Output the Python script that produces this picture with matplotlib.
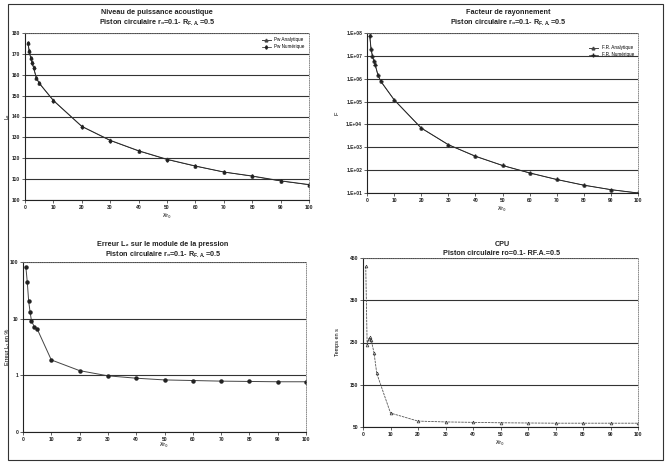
import numpy as np
import matplotlib
matplotlib.use("Agg")
import matplotlib.pyplot as plt
from matplotlib.patches import Rectangle

plt.rcParams['font.family'] = ['Liberation Sans', 'DejaVu Sans']

# ---- donnees ----
lam = [1, 1.5, 2, 2.5, 3, 4, 5, 10, 20, 30, 40, 50, 60, 70, 80, 90, 100]

pw_ana = [175.4, 171.5, 168.1, 165.9, 163.5, 158.5, 156.0, 147.7, 135.3,
          128.6, 123.6, 119.5, 116.3, 113.4, 111.5, 109.2, 107.4]
pw_num = [175.0, 171.2, 168.0, 165.7, 163.4, 158.4, 155.9, 147.6, 135.2,
          128.5, 123.5, 119.4, 116.2, 113.4, 111.4, 109.1, 107.3]

fr_ana = [7.9e7, 2.0e7, 1.0e7, 6.0e6, 4.2e6, 1.5e6, 8.0e5, 1.2e5, 7.0e3,
          1.3e3, 4.1e2, 1.6e2, 76, 39, 22, 14, 10]
fr_num = [7.5e7, 1.9e7, 1.0e7, 5.8e6, 4.1e6, 1.5e6, 7.9e5, 1.2e5, 6.9e3,
          1.3e3, 4.0e2, 1.6e2, 75, 39, 22, 14, 10]

err_l2 = [83, 45, 20.4, 13.2, 9.1, 7.2, 6.6, 1.87, 1.21, 0.98, 0.89, 0.83,
          0.81, 0.79, 0.78, 0.77, 0.77]

cpu = [430, 245, 258, 262, 255, 226, 177, 83, 64, 62, 61, 60, 59.5, 59,
       59, 59, 59]

W, H = 669, 463
fig = plt.figure(figsize=(W / 100, H / 100), dpi=100)


def box(x0, y0, x1, y1):
    # pixels (origine en haut a gauche) -> fractions de figure
    return [x0 / W, 1 - y1 / H, (x1 - x0) / W, (y1 - y0) / H]


def style(ax):
    ax.set_facecolor('white')
    for s in ('top', 'right'):
        ax.spines[s].set_color('#777777')
        ax.spines[s].set_linestyle(':')
        ax.spines[s].set_linewidth(0.6)
    for s in ('left', 'bottom'):
        ax.spines[s].set_color('#222222')
        ax.spines[s].set_linewidth(0.8)
    ax.yaxis.grid(True, color='#333333', lw=0.8)
    ax.set_axisbelow(True)
    ax.tick_params(labelsize=3.6, length=2, width=0.5, pad=1.5, colors='#222222')
    ax.set_xlim(0, 100)
    ax.set_xticks(range(0, 101, 10))


def gras(ax):
    for lab in ax.get_xticklabels() + ax.get_yticklabels():
        lab.set_fontweight('bold')


def titre(x, y, l1, l2):
    fig.text(x / W, 1 - y / H, l1, ha='center', va='center', fontsize=5.2,
             fontweight='bold', color='#222222')
    fig.text(x / W, 1 - (y + 9.5) / H, l2, ha='center', va='center',
             fontsize=5.2, fontweight='bold', color='#222222')


sub = r'Piston circulaire r₀=0.1- R$_{\mathregular{F.A.}}$=0.5'
xlab = 'λ/r₀'

# ---- Niveau de puissance ----
ax1 = fig.add_axes(box(25, 33, 309, 200))
style(ax1)
ax1.plot(lam, pw_ana, color='#444444', lw=0.7, marker='^', ms=2, mfc='#444444',
         label='Pw Analytique')
ax1.plot(lam, pw_num, color='#222222', lw=0.5, marker='d', ms=1.8,
         label='Pw Numérique')
ax1.set_ylim(100, 180)
ax1.set_yticks(range(100, 181, 10))
ax1.set_xlabel(xlab, fontsize=4, labelpad=2)
ax1.set_ylabel('Lₚ', fontsize=4)
ax1.yaxis.set_label_coords(-0.055, 0.5)
ax1.legend(loc='upper right', fontsize=3.3, frameon=False, handlelength=2)
gras(ax1)
titre(157, 13, 'Niveau de puissance acoustique', sub)

# ---- Facteur de rayonnement ----
ax2 = fig.add_axes(box(367, 33, 638, 193))
ax2.set_yscale('log')
style(ax2)
ax2.plot(lam, fr_ana, color='#444444', lw=0.7, marker='^', ms=2,
         label='F.R. Analytique')
ax2.plot(lam, fr_num, color='#222222', lw=0.5, marker='+', ms=2.5,
         label='F.R. Numérique')
ax2.set_ylim(10, 1e8)
ax2.set_yticks([10.0 ** k for k in range(1, 9)])
ax2.set_yticklabels(['1.E+%02d' % k for k in range(1, 9)])
ax2.minorticks_off()
ax2.set_xticks(range(0, 101, 10))
ax2.set_xlabel(xlab, fontsize=4, labelpad=2)
ax2.set_ylabel('F', fontsize=4)
ax2.yaxis.set_label_coords(-0.1, 0.5)
ax2.legend(loc='upper right', bbox_to_anchor=(1.0, 0.95), fontsize=3.3,
           frameon=False, handlelength=2)
gras(ax2)
titre(508, 13, 'Facteur de rayonnement', sub)

# ---- Erreur L2 ----
ax3 = fig.add_axes(box(23, 262, 306, 432))
ax3.set_yscale('log')
style(ax3)
ax3.plot(lam, err_l2, color='#444444', lw=0.7, marker='o', ms=2.2,
         mfc='#222222', mec='#222222')
ax3.set_ylim(0.1, 100)
ax3.set_yticks([0.1, 1, 10, 100])
ax3.set_yticklabels(['0', '1', '10', '100'])
ax3.minorticks_off()
ax3.set_xticks(range(0, 101, 10))
ax3.set_xlabel(xlab, fontsize=4, labelpad=0)
ax3.set_ylabel('Erreur L₂ en %', fontsize=4)
ax3.yaxis.set_label_coords(-0.045, 0.5)
gras(ax3)
titre(163, 245, 'Erreur L₂ sur le module de la pression', sub)

# ---- CPU ----
ax4 = fig.add_axes(box(363, 258, 638, 427))
style(ax4)
ax4.plot(lam, cpu, color='#555555', lw=0.6, ls=(0, (3, 1)), marker='^', ms=2,
         mfc='none', mec='#333333', mew=0.5)
ax4.set_ylim(50, 450)
ax4.set_yticks(range(50, 451, 100))
ax4.set_xlabel(xlab, fontsize=4, labelpad=2)
ax4.set_ylabel('Temps en s', fontsize=4)
ax4.yaxis.set_label_coords(-0.085, 0.5)
gras(ax4)
titre(502, 244, 'CPU', 'Piston circulaire ro=0.1- RF.A.=0.5')

# cadre exterieur
fig.patches.append(Rectangle((8 / W, 3 / H), 655 / W, 456 / H,
                             transform=fig.transFigure, fill=False,
                             ec='#333333', lw=0.8))

fig.savefig('out.png', dpi=100)
